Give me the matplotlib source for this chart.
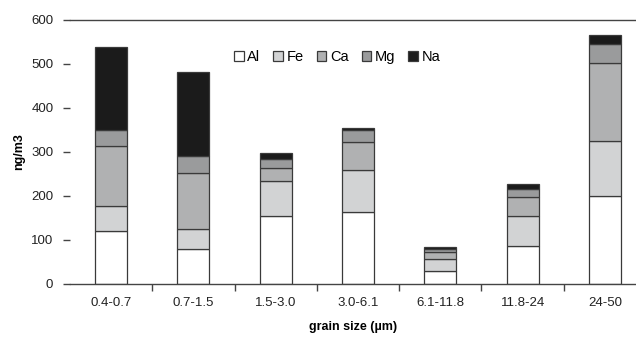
import numpy as np
import matplotlib
matplotlib.use("Agg")
from matplotlib import pyplot as plt

plt.rcParams['font.family'] = ['Liberation Sans', 'DejaVu Sans']

sizes = ['0.4-0.7', '0.7-1.5', '1.5-3.0', '3.0-6.1', '6.1-11.8', '11.8-24', '24-50']
elements = ['Al', 'Fe', 'Ca', 'Mg', 'Na']
al = [121, 80, 155, 163, 29, 87, 201]
fe = [57, 45, 80, 95, 28, 67, 125]
ca = [136, 127, 29, 64, 15, 44, 176]
mg = [36, 40, 20, 28, 8, 19, 43]
na = [189, 189, 13, 5, 5, 10, 22]
colors = ['#ffffff', '#d2d3d4', '#b0b1b2', '#9a9b9c', '#1b1b1b']

fig = plt.figure(figsize=(6.36, 3.40), dpi=100)
ax = fig.add_axes([70 / 636, 56 / 340, 566 / 636, 264 / 340])

x = np.arange(len(sizes))
bottom = np.zeros(len(sizes))
for name, vals, c in zip(elements, [al, fe, ca, mg, na], colors):
    ax.bar(x, vals, 0.39, bottom=bottom, color=c, edgecolor='#3a3a3a',
           linewidth=0.9, label=name)
    bottom += np.array(vals)

ax.set_xlim(-0.5, 6.5 - 10 / 82)
ax.set_ylim(0, 600)
ax.set_yticks(range(0, 601, 100))
ax.set_xticks(x)
ax.set_xticklabels(sizes)
ax.set_xticks(x[:-1] + 0.5, minor=True)
ax.tick_params(axis='x', which='major', length=0, pad=9, labelsize=9.5, colors='#222222')
ax.tick_params(axis='x', which='minor', length=5, width=1, color='#444444')
ax.tick_params(axis='y', length=5, width=1, color='#444444', labelsize=9.5,
               labelcolor='#222222', pad=7)

for s in ['left', 'right']:
    ax.spines[s].set_visible(False)
for s in ['top', 'bottom']:
    ax.spines[s].set_color('#444444')
    ax.spines[s].set_linewidth(1)

ax.set_ylabel('ng/m3', fontsize=9, fontweight='bold', labelpad=4)
ax.set_xlabel('grain size (µm)', fontsize=9, fontweight='bold', labelpad=9)

ax.legend(ncol=5, loc='upper center', bbox_to_anchor=(0.472, 0.935),
          frameon=False, fontsize=10.5, handlelength=0.65, handleheight=0.65,
          handletextpad=0.25, columnspacing=0.9)

fig.savefig('out.png', dpi=100)
